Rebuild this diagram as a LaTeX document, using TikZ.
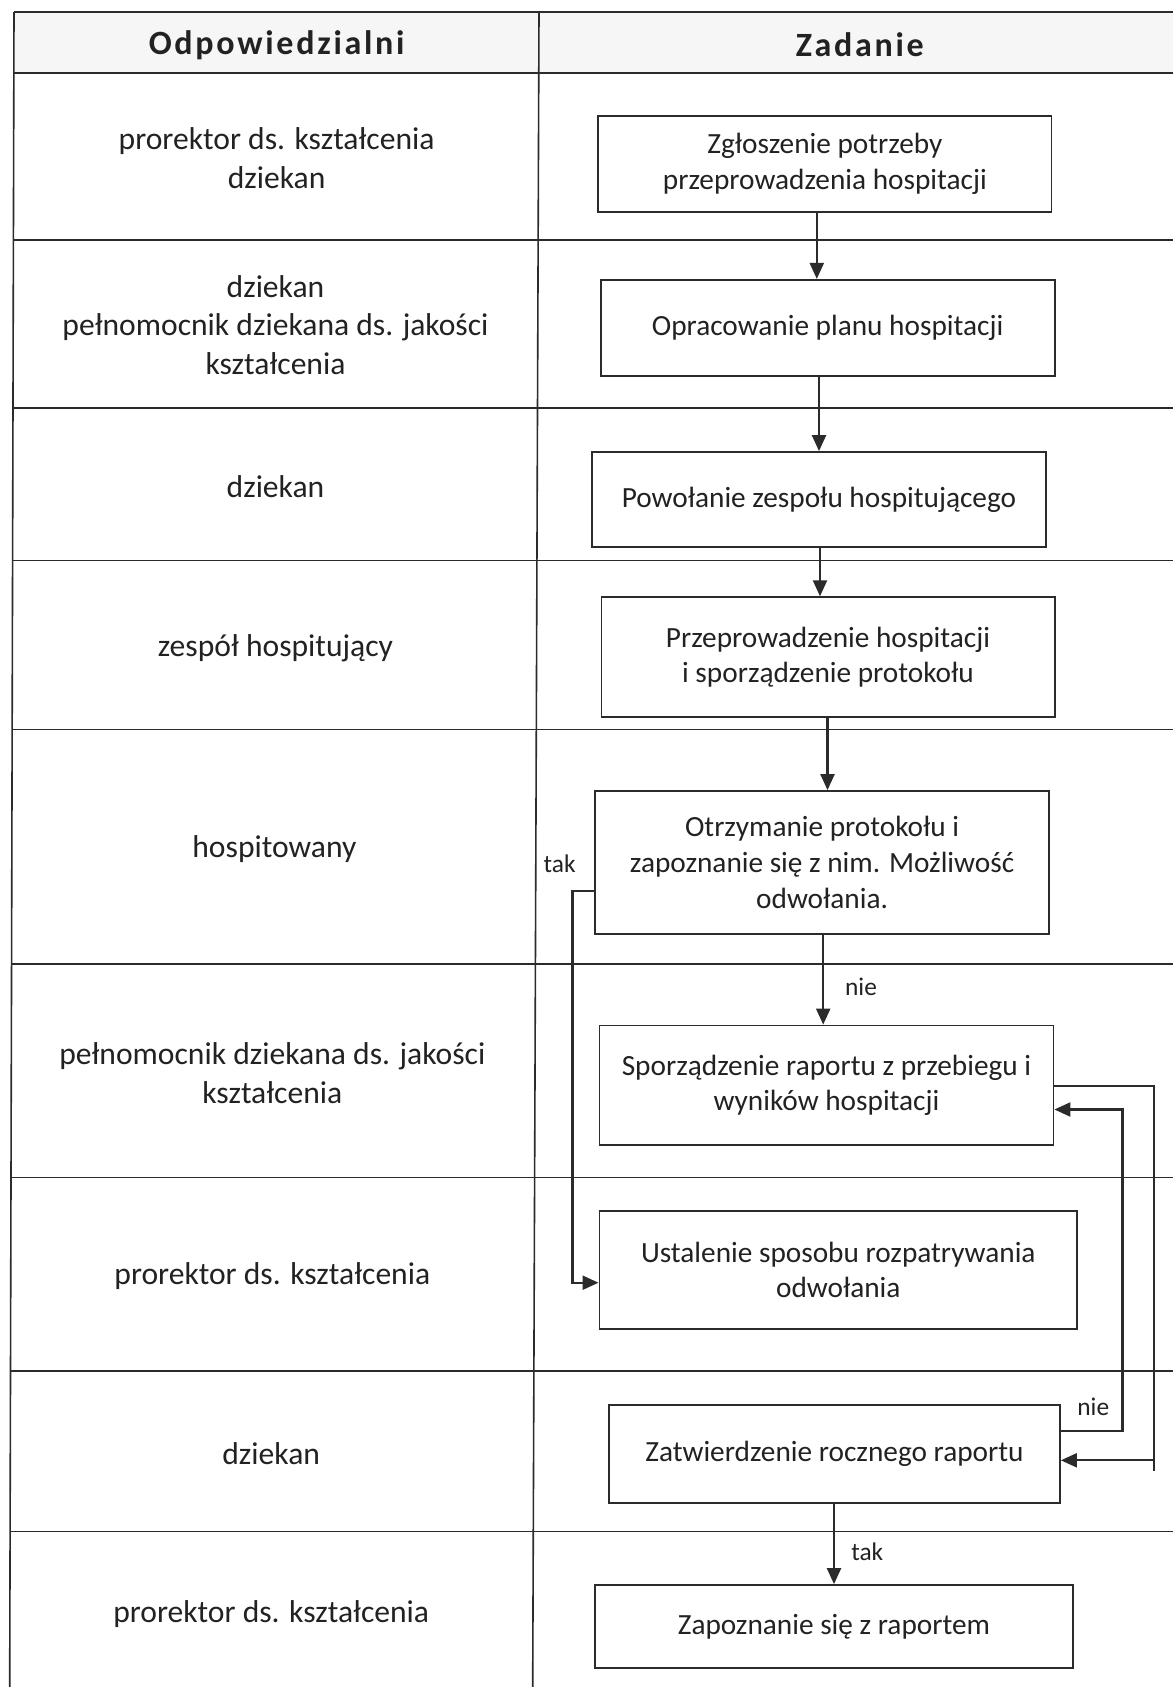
\documentclass[tikz,border=0pt]{standalone}
\usepackage{fontspec}
\setmainfont{Carlito}
\newfontfamily\headfam[LetterSpace=8]{Carlito}
\usetikzlibrary{arrows.meta}
\definecolor{inkc}{HTML}{2B2B2B}
\definecolor{textc}{HTML}{222222}
\definecolor{headbg}{HTML}{F6F6F6}
\newcommand\myfont{\fontsize{15.8}{19.4}\selectfont}
\newcommand\myboxfont{\fontsize{14.65}{17.8}\selectfont}
\newcommand\mysmall{\fontsize{12.7}{15}\selectfont}
\newcommand\myhead{\headfam\bfseries\fontsize{17}{20}\selectfont}
\begin{document}
\begin{tikzpicture}[x=0.5pt,y=-0.5pt,
  grid/.style={draw=inkc, line width=0.8pt},
  box/.style={draw=inkc, line width=0.9pt, rectangle, inner sep=0pt, align=center, font=\myboxfont, text=textc},
  lbl/.style={align=center, font=\myfont, text=textc, inner sep=0pt},
  small/.style={font=\mysmall, text=textc, inner sep=0pt},
  head/.style={font=\myhead, text=textc, inner sep=0pt},
  flow/.style={draw=inkc, line width=1.1pt, -{Triangle[length=8pt,width=7pt]}}]
\useasboundingbox (0,0) rectangle (1173,1687);
\fill[white] (0,0) rectangle (1173,1687);
% header background
\fill[headbg] (14,12) -- (1173,12) -- (1173,73.2) -- (13.84,73.2) -- cycle;
% table lines
\draw[grid] (14,12) -- (1173,12);
\draw[grid] (13.84,73.2) -- (1173,73.2);
\draw[grid] (13.41,240) -- (1173,240);
\draw[grid] (12.98,407.8) -- (1173,407.8);
\draw[grid] (12.59,560.6) -- (1173,560.6);
\draw[grid] (12.16,729.6) -- (1173,729.6);
\draw[grid] (11.55,964.2) -- (1173,964.2);
\draw[grid] (11.0,1177.3) -- (1173,1177.3);
\draw[grid] (10.5,1371) -- (1173,1371);
\draw[grid] (10.1,1531.3) -- (1173,1531.3);
\draw[grid] (14,12) -- (9.7,1687);
\draw[grid] (539,12) -- (532.7,1687);
% headers
\node[head] (h1) at (276.6,44.8) {Odpowiedzialni};
\node[head] (h2) at (859.8,44.8) {Zadanie};
% responsible
\node[lbl] (r1) at (276.6,158.2) {prorektor ds. kształcenia\\dziekan};
\node[lbl] (r2) at (275.5,325) {dziekan\\pełnomocnik dziekana ds. jakości\\kształcenia};
\node[lbl] (r3) at (275.5,486.4) {dziekan};
\node[lbl] (r4) at (275.5,647.8) {zespół hospitujący};
\node[lbl] (r5) at (274.4,849) {hospitowany};
\node[lbl] (r6) at (272.3,1072.9) {pełnomocnik dziekana ds. jakości\\kształcenia};
\node[lbl] (r7) at (272.3,1276.3) {prorektor ds. kształcenia};
\node[lbl] (r8) at (271.2,1453.8) {dziekan};
\node[lbl] (r9) at (271.2,1614.2) {prorektor ds. kształcenia};
% task boxes
\node[box, minimum width=226.6pt, minimum height=47.9pt] (n1) at (824.9,164.1) {Zgłoszenie potrzeby\\przeprowadzenia hospitacji};
\node[box, minimum width=227pt, minimum height=47.9pt] (n2) at (827.6,327.7) {Opracowanie planu hospitacji};
\node[box, minimum width=227pt, minimum height=47.4pt] (n3) at (819,499.4) {Powołanie zespołu hospitującego};
\node[box, minimum width=226.6pt, minimum height=59.8pt] (n4) at (828,657) {Przeprowadzenie hospitacji\\i sporządzenie protokołu};
\node[box, minimum width=227.1pt, minimum height=71.5pt] (n5) at (822.1,862.5) {Otrzymanie protokołu i\\zapoznanie się z nim. Możliwość\\odwołania.};
\node[box, minimum width=227pt, minimum height=59.8pt] (n6) at (826.5,1085.3) {Sporządzenie raportu z przebiegu i\\wyników hospitacji};
\node[box, minimum width=238.9pt, minimum height=59.2pt] (n7) at (838.3,1269.8) {Ustalenie sposobu rozpatrywania\\odwołania};
\node[box, minimum width=225.5pt, minimum height=49pt] (n8) at (834.5,1454.3) {Zatwierdzenie rocznego raportu};
\node[box, minimum width=239pt, minimum height=41.5pt] (n9) at (834,1626.5) {Zapoznanie się z raportem};
% coordinates for connectors
\coordinate (x12) at (816.8,0);
\coordinate (x23) at (819,0);
\coordinate (x34) at (820,0);
\coordinate (x45) at (827.5,0);
\coordinate (x56) at (823.2,0);
\coordinate (x89) at (834,0);
\coordinate (tk) at (572.5,891);
\coordinate (tky) at (0,1282.7);
\coordinate (ra) at (1153.6,1085.8);
\coordinate (ray) at (0,1460.3);
\coordinate (rb) at (1122.4,1431.2);
\coordinate (rby) at (0,1109.5);
% connectors
\draw[flow] (n1.south -| x12) -- (n2.north -| x12);
\draw[flow] (n2.south -| x23) -- (n3.north -| x23);
\draw[flow] (n3.south -| x34) -- (n4.north -| x34);
\draw[flow] (n4.south -| x45) -- (n5.north -| x45);
\draw[flow] (n5.south -| x56) -- (n6.north -| x56);
\draw[flow] (n5.west |- tk) -- (tk) |- (n7.west |- tky);
\draw[flow] (n6.east |- ra) -- (ra) |- (n8.east |- ray);
\draw[draw=inkc, line width=1.1pt] (ra |- ray) -- ++(0,11);
\draw[flow] (n8.east |- rb) -- (rb) |- (n6.east |- rby);
\draw[flow] (n8.south -| x89) -- (n9.north -| x89);
% labels
\node[small] (l1) at (559.6,864) {tak};
\node[small] (l2) at (861,986.8) {nie};
\node[small] (l3) at (1093.3,1406.5) {nie};
\node[small] (l4) at (867.3,1551.7) {tak};
\end{tikzpicture}
\end{document}
